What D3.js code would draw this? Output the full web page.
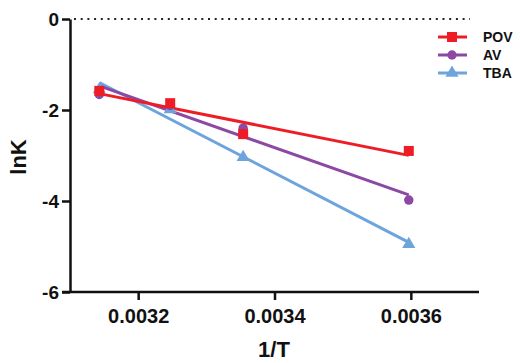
<!DOCTYPE html>
<html>
<head>
<meta charset="utf-8">
<script src="https://cdn.jsdelivr.net/npm/d3@7"></script>
<style>
    body { margin: 0; background: #fff; }
    text { font-family: "Liberation Sans", Arial, sans-serif; font-weight: bold; fill: #111; }
</style>
</head>
<body>
<div id="chart"></div>
<script>
// 1/T for 45, 35, 25 and 5 degrees C
var invT = [0.003143, 0.003247, 0.003354, 0.003597];
var povLnK = [-1.58, -1.85, -2.53, -2.90];
var avLnK = [-1.66, -1.90, -2.40, -3.98];
var tbaLnK = [-1.55, -1.99, -3.04, -4.95];
var seriesNames = ['POV', 'AV', 'TBA'];
var xTicks = [0.0032, 0.0034, 0.0036];
var yTicks = [0, -2, -4, -6];

var colors = {POV: '#ee1d25', AV: '#8c48a3', TBA: '#6ea4dc'};
var shapes = {POV: d3.symbolSquare, AV: d3.symbolCircle, TBA: d3.symbolTriangle};
var sizes = {POV: 100, AV: 70, TBA: 75};

var width = 520, height = 363;

var svg = d3.select('#chart')
    .append('svg')
    .attr('width', width)
    .attr('height', height);

var x = d3.scaleLinear().domain([0.0031, 0.0037]).range([70, 479]);
var y = d3.scaleLinear().domain([-6, 0]).range([292, 19]);

// least squares fit, the chart shows the fitted lines
function fit(xs, ys) {
    var mx = d3.mean(xs), my = d3.mean(ys), sxy = 0, sxx = 0;
    xs.forEach(function (v, i) {
        sxy += (v - mx) * (ys[i] - my);
        sxx += (v - mx) * (v - mx);
    });
    var b = sxy / sxx;
    return function (v) { return my + b * (v - mx); };
}

// dotted zero line
svg.append('line')
    .attr('x1', x(0.0031) + 4).attr('x2', 470)
    .attr('y1', y(0)).attr('y2', y(0))
    .attr('stroke', '#222')
    .attr('stroke-width', 2)
    .attr('stroke-dasharray', '2,4.7');

var data = {POV: povLnK, AV: avLnK, TBA: tbaLnK};

seriesNames.slice().reverse().forEach(function (name) {
    var f = fit(invT, data[name]);
    var x0 = d3.min(invT), x1 = d3.max(invT);
    svg.append('line')
        .attr('x1', x(x0)).attr('y1', y(f(x0)))
        .attr('x2', x(x1)).attr('y2', y(f(x1)))
        .attr('stroke', colors[name])
        .attr('stroke-width', 3);
});

seriesNames.slice().reverse().forEach(function (name) {
    svg.append('g')
        .selectAll('path')
        .data(invT.map(function (v, i) { return [v, data[name][i]]; }))
        .enter()
        .append('path')
        .attr('d', d3.symbol().type(shapes[name]).size(sizes[name]))
        .attr('transform', function (d) {
            return 'translate(' + x(d[0]) + ',' + y(d[1]) + ')';
        })
        .attr('fill', colors[name]);
});

// axes
var xAxis = svg.append('g')
    .attr('transform', 'translate(0,' + y(-6) + ')')
    .call(d3.axisBottom(x).tickValues(xTicks).tickSize(8).tickSizeOuter(0).tickFormat(d3.format('.4f')));
var yAxis = svg.append('g')
    .attr('transform', 'translate(' + x(0.0031) + ',0)')
    .call(d3.axisLeft(y).tickValues(yTicks).tickSize(8).tickSizeOuter(0).tickFormat(function (d) { return d === 0 ? '0' : String(d); }));

[xAxis, yAxis].forEach(function (a) {
    a.attr('font-size', null);
    a.select('.domain').attr('stroke', '#111').attr('stroke-width', 2.5);
    a.selectAll('.tick line').attr('stroke', '#111').attr('stroke-width', 2.5);
    a.selectAll('.tick text').style('font-size', '19px').attr('fill', '#111');
});
xAxis.selectAll('.tick text').style('font-size', '20px').attr('y', 31).attr('dy', 0);
yAxis.selectAll('.tick text').attr('x', -11).attr('dy', '0.36em');
// extend x axis line to the left end of the -6 tick
xAxis.select('.domain').attr('d', 'M' + (x(0.0031) - 8) + ',0H' + x(0.0037));

svg.append('text')
    .attr('x', 274).attr('y', 357)
    .attr('text-anchor', 'middle')
    .style('font-size', '22px')
    .text('1/T');

svg.append('text')
    .attr('transform', 'translate(26,157) rotate(-90)')
    .attr('text-anchor', 'middle')
    .style('font-size', '22px')
    .text('lnK');

// legend
var legend = svg.append('g');
seriesNames.forEach(function (name, i) {
    var ly = 37 + i * 18;
    legend.append('line')
        .attr('x1', 438).attr('x2', 467)
        .attr('y1', ly).attr('y2', ly)
        .attr('stroke', colors[name]).attr('stroke-width', 3);
    legend.append('path')
        .attr('d', d3.symbol().type(shapes[name]).size(sizes[name]))
        .attr('transform', 'translate(452,' + ly + ')')
        .attr('fill', colors[name]);
    legend.append('text')
        .attr('x', 483).attr('y', ly + 5)
        .style('font-size', '14px')
        .text(name);
});
</script>
</body>
</html>
